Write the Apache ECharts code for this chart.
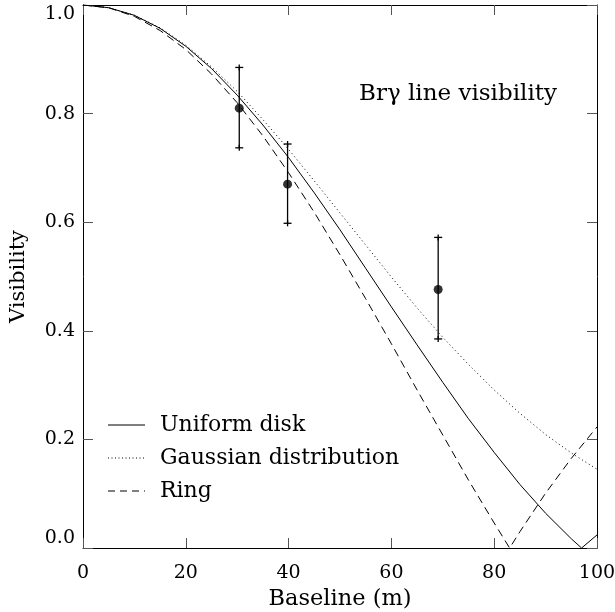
<!DOCTYPE html>
<html>
<head>
<meta charset="utf-8">
<script src="https://cdn.jsdelivr.net/npm/echarts@6/dist/echarts.min.js"></script>
<style>
html,body{margin:0;padding:0;background:#fff;}
#chart{width:615px;height:612px;}
</style>
</head>
<body>
<div id="chart"></div>
<script>
// ---- Data ----
const uniformB = [0,5,10,15,20,25,30,35,40,45,50,55,60,65,70,75,80,85,90,95,97,100];
const uniformV = [1.000,0.995,0.981,0.957,0.924,0.883,0.834,0.779,0.719,0.654,0.586,0.515,0.444,0.374,0.305,0.238,0.176,0.117,0.064,0.017,0.000,0.024];

const gaussB = [0,5,10,15,20,25,30,35,40,45,50,55,60,65,70,75,80,85,90,95,100];
const gaussV = [1.000,0.995,0.981,0.958,0.926,0.886,0.841,0.789,0.734,0.676,0.617,0.558,0.499,0.442,0.388,0.338,0.291,0.248,0.209,0.175,0.145];

const ringB = [0,5,10,15,20,25,30,35,40,45,50,55,60,65,70,75,80,83,85,90,95,100];
const ringV = [1.000,0.995,0.979,0.953,0.918,0.873,0.820,0.759,0.691,0.618,0.540,0.459,0.376,0.291,0.208,0.125,0.046,0.000,0.030,0.101,0.165,0.223];

const obsB    = [30.4, 39.8, 69.1];
const obsV    = [0.810, 0.670, 0.476];
const obsLow  = [0.737, 0.598, 0.385];
const obsHigh = [0.885, 0.744, 0.572];

const xTicks = [0,20,40,60,80,100];
const seriesNames = ['Uniform disk','Gaussian distribution','Ring'];
const titleText = 'Br\u03b3 line visibility';
const xName = 'Baseline (m)';
const yName = 'Visibility';

// ---- Build ----
const FONT = 'DejaVu Serif';
const TXT = 22;
const zip = (a,b) => a.map((v,i)=>[v,b[i]]);
const chart = echarts.init(document.getElementById('chart'), null, {renderer:'canvas'});

const axisCommon = {
  min: 0, max: 100, interval: 20,
  axisLine:{show:true, onZero:false, lineStyle:{color:'#000', width:1}},
  axisTick:{show:true, inside:true, length:10, lineStyle:{color:'#555', width:1}},
  splitLine:{show:false}
};
const lineStyles = [
  {color:'#000', width:1, type:'solid'},
  {color:'#000', width:1, type:[1,3]},
  {color:'#000', width:1, type:[8,5]}
];

// legend drawn as graphic (sample lines + real text)
const legendGraphic = [];
const legX = 108, legLen = 37, legTextX = 160, legY0 = 425, legStep = 33;
seriesNames.forEach((nm,i)=>{
  const y = legY0 + i*legStep;
  const ls = lineStyles[i];
  legendGraphic.push({type:'line', silent:true, shape:{x1:legX, y1:y, x2:legX+legLen, y2:y},
    style:{stroke:ls.color, lineWidth:ls.width, lineDash: i===0 ? null : (i===1 ? [1,2.5] : [7,5])}});
  legendGraphic.push({type:'text', silent:true, x:legTextX, y:y,
    style:{text:nm, fontFamily:FONT, fontSize:TXT, fill:'#000', verticalAlign:'middle'}});
});

const option = {
  animation:false, backgroundColor:'#fff',
  title:{text:titleText, right:53, top:78, textStyle:{fontFamily:FONT, fontSize:23, fontWeight:'normal', color:'#000'}},
  graphic: legendGraphic,
  grid:{left:83, top:5, right:18, bottom:64, containLabel:false, outerBoundsMode:'none'},
  xAxis:[
    Object.assign({}, axisCommon, {type:'value', position:'bottom',
      name:xName, nameLocation:'middle', nameGap:39,
      nameTextStyle:{fontFamily:FONT, fontSize:22.5, color:'#000'},
      axisLabel:{show:true, margin:16, fontFamily:FONT, fontSize:19, color:'#000',
        formatter:(v)=> xTicks.includes(v) ? String(v) : ''}}),
    Object.assign({}, axisCommon, {type:'value', position:'top', axisLabel:{show:false}})
  ],
  yAxis:[
    Object.assign({}, axisCommon, {type:'value', min:0, max:1, interval:0.2, position:'left',
      name:yName, nameLocation:'middle', nameGap:54, nameRotate:90,
      nameTextStyle:{fontFamily:FONT, fontSize:21, color:'#000'},
      axisLabel:{show:true, margin:8, fontFamily:FONT, fontSize:19, color:'#000',
        verticalAlignMinLabel:'bottom', verticalAlignMaxLabel:'top', formatter:(v)=> v.toFixed(1)}}),
    Object.assign({}, axisCommon, {type:'value', min:0, max:1, interval:0.2, position:'right', axisLabel:{show:false}})
  ],
  series:[
    {name:seriesNames[0], type:'line', data:zip(uniformB,uniformV), showSymbol:false, symbol:'none', lineStyle:lineStyles[0], silent:true, z:3},
    {name:seriesNames[1], type:'line', data:zip(gaussB,gaussV), showSymbol:false, symbol:'none', lineStyle:lineStyles[1], silent:true, z:3},
    {name:seriesNames[2], type:'line', data:zip(ringB,ringV), showSymbol:false, symbol:'none', lineStyle:lineStyles[2], silent:true, z:3},
    {type:'custom', silent:true, z:4, data: obsB.map((b,i)=>[b, obsLow[i], obsHigh[i]]),
      renderItem:(params, api)=>{
        const lo = api.coord([api.value(0), api.value(1)]);
        const hi = api.coord([api.value(0), api.value(2)]);
        const hw = 4, st = {stroke:'#000', lineWidth:1.3};
        return {type:'group', children:[
          {type:'line', shape:{x1:lo[0],y1:lo[1],x2:hi[0],y2:hi[1]}, style:st},
          {type:'line', shape:{x1:lo[0]-hw,y1:lo[1],x2:lo[0]+hw,y2:lo[1]}, style:st},
          {type:'line', shape:{x1:hi[0]-hw,y1:hi[1],x2:hi[0]+hw,y2:hi[1]}, style:st},
          {type:'line', shape:{x1:lo[0],y1:lo[1]-3,x2:lo[0],y2:lo[1]+3}, style:st},
          {type:'line', shape:{x1:hi[0],y1:hi[1]-3,x2:hi[0],y2:hi[1]+3}, style:st}
        ]};
      }},
    {type:'scatter', data:zip(obsB,obsV), symbol:'circle', symbolSize:9, itemStyle:{color:'#000'}, silent:true, z:5}
  ]
};
chart.setOption(option);
</script>
</body>
</html>
